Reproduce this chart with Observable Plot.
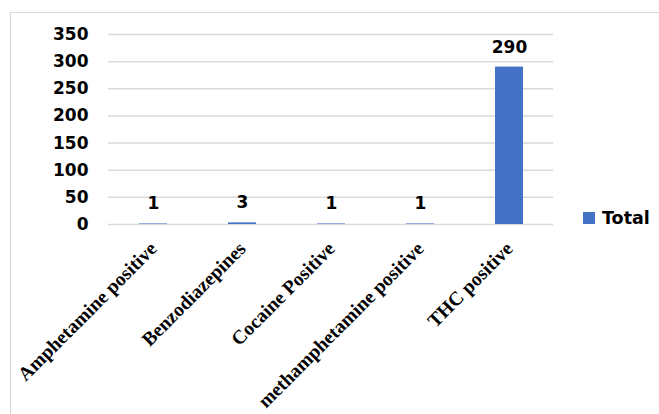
<!DOCTYPE html>
<html>
<head>
<meta charset="utf-8">
<script src="https://cdn.jsdelivr.net/npm/d3@7"></script>
<script src="https://cdn.jsdelivr.net/npm/@observablehq/plot@0.6"></script>
<style>
  html, body { margin: 0; padding: 0; background: #fff; }
  #wrap { position: relative; width: 659px; height: 414px; overflow: hidden; }
  #border { position: absolute; left: 10px; top: 12px; width: 720px; height: 460px;
            border: 1.5px solid #d9d9d9; box-sizing: border-box; }
  #chart { position: absolute; left: 0; top: 0; }
  #legend { position: absolute; left: 583px; top: 208px; }
  .lg-swatches { font-family: "DejaVu Sans", sans-serif !important; font-size: 17.5px !important;
                 font-weight: bold; color: #000; min-height: 0 !important; margin: 0 !important; }
  .lg-swatch { margin-right: 0 !important; }
  .lg-swatch svg { margin-right: 7px !important; }
</style>
</head>
<body>
<div id="wrap">
  <div id="border"></div>
  <div id="chart"></div>
  <div id="legend"></div>
</div>
<script>
const categories = ["Amphetamine positive", "Benzodiazepines", "Cocaine Positive", "methamphetamine positive", "THC positive"];
const totals = [1, 3, 1, 1, 290];
const yTicks = [0, 50, 100, 150, 200, 250, 300, 350];
const seriesName = "Total";
const seriesColor = "#4472c4";

const data = categories.map((c, i) => ({category: c, value: totals[i], series: seriesName}));

const plot = Plot.plot({
  width: 659,
  height: 414,
  marginLeft: 108,
  marginRight: 106,
  marginTop: 34,
  marginBottom: 190,
  style: {background: "transparent", overflow: "visible"},
  x: {domain: categories, paddingInner: 0.69, paddingOuter: 0.345, axis: null},
  y: {domain: [0, 350], axis: null},
  color: {domain: [seriesName], range: [seriesColor]},
  marks: [
    Plot.gridY(yTicks, {stroke: "#d9d9d9", strokeOpacity: 1, strokeWidth: 1.5}),
    Plot.axisY(yTicks, {tickSize: 0, tickPadding: 20, fontSize: 17, fontWeight: "bold",
      fontFamily: "DejaVu Sans", fill: "#000", label: null}),
    Plot.barY(data, {x: "category", y: "value", fill: "series"}),
    Plot.text(data, {x: "category", y: "value", text: d => String(d.value), dy: -20,
      fontSize: 17, fontWeight: "bold", fontFamily: "DejaVu Sans", fill: "#000"}),
    Plot.text(categories, {x: d => d, y: () => 0, text: d => d, rotate: -45, textAnchor: "end",
      dx: 0, dy: 21, fontSize: 19.5, fontWeight: "bold", fontFamily: "Liberation Serif", fill: "#000"})
  ]
});
document.getElementById("chart").appendChild(plot);

const legend = plot.legend("color", {className: "lg", swatchSize: 12});
document.getElementById("legend").appendChild(legend);
</script>
</body>
</html>
